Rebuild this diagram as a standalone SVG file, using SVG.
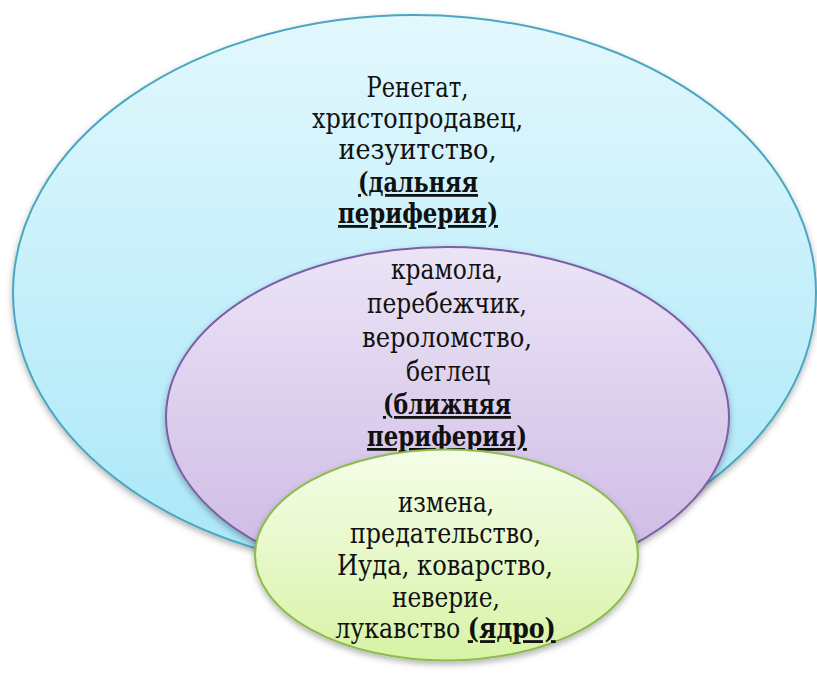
<svg xmlns="http://www.w3.org/2000/svg" width="817" height="680" viewBox="0 0 817 680">
<style>
text{font-family:"DejaVu Serif",serif;font-size:28px;fill:#111;text-anchor:middle}
.b{font-weight:bold;text-decoration:underline}
</style>
<defs>
<linearGradient id="gBlue" x1="0" y1="0" x2="0" y2="1"><stop offset="0" stop-color="#e2f8fd"/><stop offset="1" stop-color="#a9e7f8"/></linearGradient>
<linearGradient id="gPurple" x1="0" y1="0" x2="0" y2="1"><stop offset="0" stop-color="#ebe4f6"/><stop offset="1" stop-color="#ccb8e4"/></linearGradient>
<linearGradient id="gGreen" x1="0" y1="0" x2="0" y2="1"><stop offset="0" stop-color="#f5fde9"/><stop offset="1" stop-color="#d8f3a6"/></linearGradient>
<filter id="sh" x="-10%" y="-10%" width="120%" height="125%"><feDropShadow dx="0" dy="3" stdDeviation="3" flood-color="#000" flood-opacity="0.3"/></filter>
</defs>
<g id="outer">
<ellipse cx="414.5" cy="293" rx="401.5" ry="278" fill="url(#gBlue)" stroke="#4aa7c1" stroke-width="2" filter="url(#sh)"/>
<text x="417.5" y="97" textLength="102" lengthAdjust="spacingAndGlyphs">Ренегат,</text>
<text x="417.5" y="128" textLength="211" lengthAdjust="spacingAndGlyphs">христопродавец,</text>
<text x="417.5" y="159" textLength="158" lengthAdjust="spacingAndGlyphs">иезуитство,</text>
<text x="418" y="192" class="b" textLength="120" lengthAdjust="spacingAndGlyphs">(дальняя</text>
<text x="418" y="223" class="b" textLength="160" lengthAdjust="spacingAndGlyphs">периферия)</text>
</g>
<g id="middle">
<ellipse cx="447.5" cy="417" rx="281.5" ry="170" fill="url(#gPurple)" stroke="#7b5ea7" stroke-width="2" filter="url(#sh)"/>
<text x="447" y="279" textLength="112" lengthAdjust="spacingAndGlyphs">крамола,</text>
<text x="447" y="313" textLength="160" lengthAdjust="spacingAndGlyphs">перебежчик,</text>
<text x="447" y="347" textLength="170" lengthAdjust="spacingAndGlyphs">вероломство,</text>
<text x="448" y="381" textLength="84" lengthAdjust="spacingAndGlyphs">беглец</text>
<text x="447" y="414" class="b" textLength="128" lengthAdjust="spacingAndGlyphs">(ближняя</text>
<text x="447" y="446" class="b" textLength="160" lengthAdjust="spacingAndGlyphs">периферия)</text>
</g>
<g id="core">
<ellipse cx="446.5" cy="555" rx="191.5" ry="105.5" fill="url(#gGreen)" stroke="#8dbb4d" stroke-width="2" filter="url(#sh)"/>
<text x="446" y="512" textLength="96" lengthAdjust="spacingAndGlyphs">измена,</text>
<text x="445.5" y="543" textLength="191" lengthAdjust="spacingAndGlyphs">предательство,</text>
<text x="445" y="575" textLength="216" lengthAdjust="spacingAndGlyphs">Иуда, коварство,</text>
<text x="446" y="607" textLength="108" lengthAdjust="spacingAndGlyphs">неверие,</text>
<text transform="translate(445.5,638) scale(0.845,1)">лукавство <tspan class="b">(ядро)</tspan></text>
</g>
<g id="connectors"/>
</svg>
